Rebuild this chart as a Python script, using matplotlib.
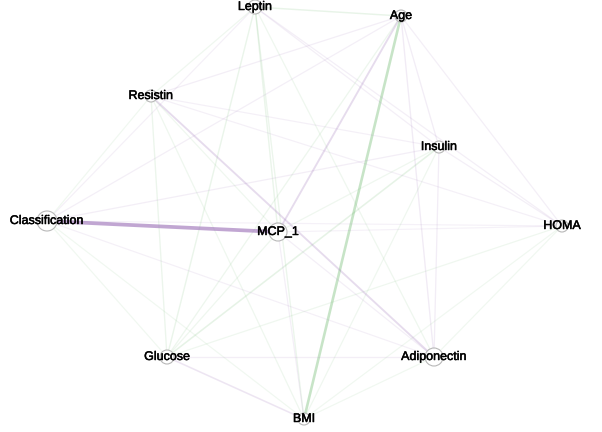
import numpy as np
import matplotlib
matplotlib.use("Agg")
import matplotlib.pyplot as plt
import matplotlib.patheffects as pe

# nodes of the network
nodes = ["Age", "BMI", "Glucose", "Insulin", "HOMA", "Leptin",
         "Adiponectin", "Resistin", "MCP_1", "Classification"]

# layout (pixel coordinates of the drawing) and node radius
node_x = [401, 304, 167, 439, 562, 255, 434, 151, 278, 47]
node_y = [16, 419, 357, 147, 226, 7, 357, 96, 232, 221]
node_r = [6, 6, 7, 6, 6, 7, 9, 6, 9, 10]

# edges: (source, target, signed weight)
edge_src = ["Age", "Age", "Age", "Age", "Age", "Age", "Age", "Age", "Age",
            "BMI", "BMI", "BMI", "BMI", "BMI", "BMI", "BMI", "BMI",
            "Glucose", "Glucose", "Glucose", "Glucose", "Glucose", "Glucose", "Glucose",
            "Insulin", "Insulin", "Insulin", "Insulin", "Insulin", "Insulin",
            "HOMA", "HOMA", "HOMA", "HOMA", "HOMA",
            "Leptin", "Leptin", "Leptin", "Leptin",
            "Adiponectin", "Adiponectin", "Adiponectin",
            "Resistin", "Resistin",
            "MCP_1"]
edge_dst = ["BMI", "Glucose", "Insulin", "HOMA", "Leptin", "Adiponectin", "Resistin", "MCP_1", "Classification",
            "Glucose", "Insulin", "HOMA", "Leptin", "Adiponectin", "Resistin", "MCP_1", "Classification",
            "Insulin", "HOMA", "Leptin", "Adiponectin", "Resistin", "MCP_1", "Classification",
            "HOMA", "Leptin", "Adiponectin", "Resistin", "MCP_1", "Classification",
            "Leptin", "Adiponectin", "Resistin", "MCP_1", "Classification",
            "Adiponectin", "Resistin", "MCP_1", "Classification",
            "Resistin", "MCP_1", "Classification",
            "MCP_1", "Classification",
            "Classification"]
edge_w = [-0.50, -0.06, 0.06, 0.04, -0.12, 0.08, 0.05, 0.25, 0.04,
          0.15, -0.04, -0.03, -0.08, -0.03, -0.05, 0.04, -0.03,
          -0.15, -0.04, -0.10, 0.05, -0.08, -0.05, -0.03,
          0.04, 0.04, 0.06, 0.03, -0.04, 0.05,
          0.04, -0.03, 0.03, 0.02, 0.02,
          -0.05, -0.04, -0.10, 0.03,
          0.25, 0.04, 0.03,
          -0.04, -0.03,
          0.85]

pos_col = np.array([150, 105, 180]) / 255
neg_col = np.array([110, 185, 110]) / 255

fig = plt.figure(figsize=(6.02, 4.32), dpi=100)
ax = fig.add_axes([0, 0, 1, 1])
ax.set_xlim(0, 602)
ax.set_ylim(432, 0)
ax.axis("off")

idx = {n: i for i, n in enumerate(nodes)}
for s, d, w in zip(edge_src, edge_dst, edge_w):
    a, b = idx[s], idx[d]
    col = pos_col if w > 0 else neg_col
    aw = abs(w)
    ax.plot([node_x[a], node_x[b]], [node_y[a], node_y[b]],
            color=col, alpha=min(1, 0.08 + 0.6 * aw),
            lw=0.8 + 2.2 * aw, solid_capstyle="butt", zorder=1)

for i, n in enumerate(nodes):
    circ = plt.Circle((node_x[i], node_y[i]), node_r[i], facecolor="white",
                      edgecolor="#b0b0b0", lw=0.8, alpha=0.9, zorder=2)
    ax.add_patch(circ)
    ax.text(node_x[i], node_y[i], n, ha="center", va="center",
            fontsize=9, family="Liberation Sans", color="black", zorder=3,
            path_effects=[pe.withStroke(linewidth=0.35, foreground="black")])

fig.savefig("out.png", dpi=100)
